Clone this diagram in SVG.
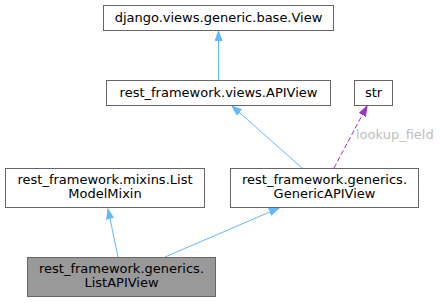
<svg xmlns="http://www.w3.org/2000/svg" width="440" height="303" viewBox="0 0 440 303">
<style>
.box{fill:#fff;stroke:#666;stroke-width:1}
.cur{fill:#999;stroke:#666;stroke-width:1}
text{font-family:"DejaVu Sans",sans-serif;font-size:13px;fill:#000;text-anchor:middle}
.inh{fill:none;stroke:#63b8ff;stroke-width:1}
.use{fill:none;stroke:#9a32cd;stroke-width:1;stroke-dasharray:5,2.5}
.lbl{fill:#bebebe;text-anchor:start}
</style>
<defs>
<marker id="ab" markerWidth="11" markerHeight="8" refX="10" refY="4" orient="auto" markerUnits="userSpaceOnUse">
<path d="M0,0.5 L10,4 L0,7.5 Z" fill="#63b8ff" stroke="#63b8ff"/>
</marker>
<marker id="ap" markerWidth="11" markerHeight="8" refX="10" refY="4" orient="auto" markerUnits="userSpaceOnUse">
<path d="M0,0.5 L10,4 L0,7.5 Z" fill="#9a32cd" stroke="#9a32cd"/>
</marker>
</defs>
<g id="edges">
<line class="inh" x1="218.5" y1="80" x2="218.5" y2="31" marker-end="url(#ab)"/>
<line class="inh" x1="302" y1="168" x2="232" y2="106" marker-end="url(#ab)"/>
<line class="use" x1="334" y1="168" x2="367" y2="106" marker-end="url(#ap)"/>
<text class="lbl" x="356" y="139">lookup_field</text>
<line class="inh" x1="118" y1="257" x2="108" y2="209" marker-end="url(#ab)"/>
<line class="inh" x1="165" y1="257" x2="279" y2="208" marker-end="url(#ab)"/>
</g>
<g id="node_view">
<rect class="box" x="103.5" y="5.5" width="230" height="25"/>
<text x="218.5" y="22">django.views.generic.base.View</text>
</g>
<g id="node_apiview">
<rect class="box" x="106.5" y="80.5" width="224" height="25"/>
<text x="218.5" y="97">rest_framework.views.APIView</text>
</g>
<g id="node_str">
<rect class="box" x="354.5" y="80.5" width="38" height="25"/>
<text x="373.5" y="97">str</text>
</g>
<g id="node_listmodelmixin">
<rect class="box" x="5.5" y="168.5" width="199" height="39"/>
<text x="105" y="184">rest_framework.mixins.List</text>
<text x="105" y="198">ModelMixin</text>
</g>
<g id="node_genericapiview">
<rect class="box" x="230.5" y="168.5" width="188" height="39"/>
<text x="324.5" y="184">rest_framework.generics.</text>
<text x="324.5" y="198">GenericAPIView</text>
</g>
<g id="node_listapiview">
<rect class="cur" x="27.5" y="257.5" width="188" height="39"/>
<text x="121.5" y="273">rest_framework.generics.</text>
<text x="121.5" y="287">ListAPIView</text>
</g>
</svg>
